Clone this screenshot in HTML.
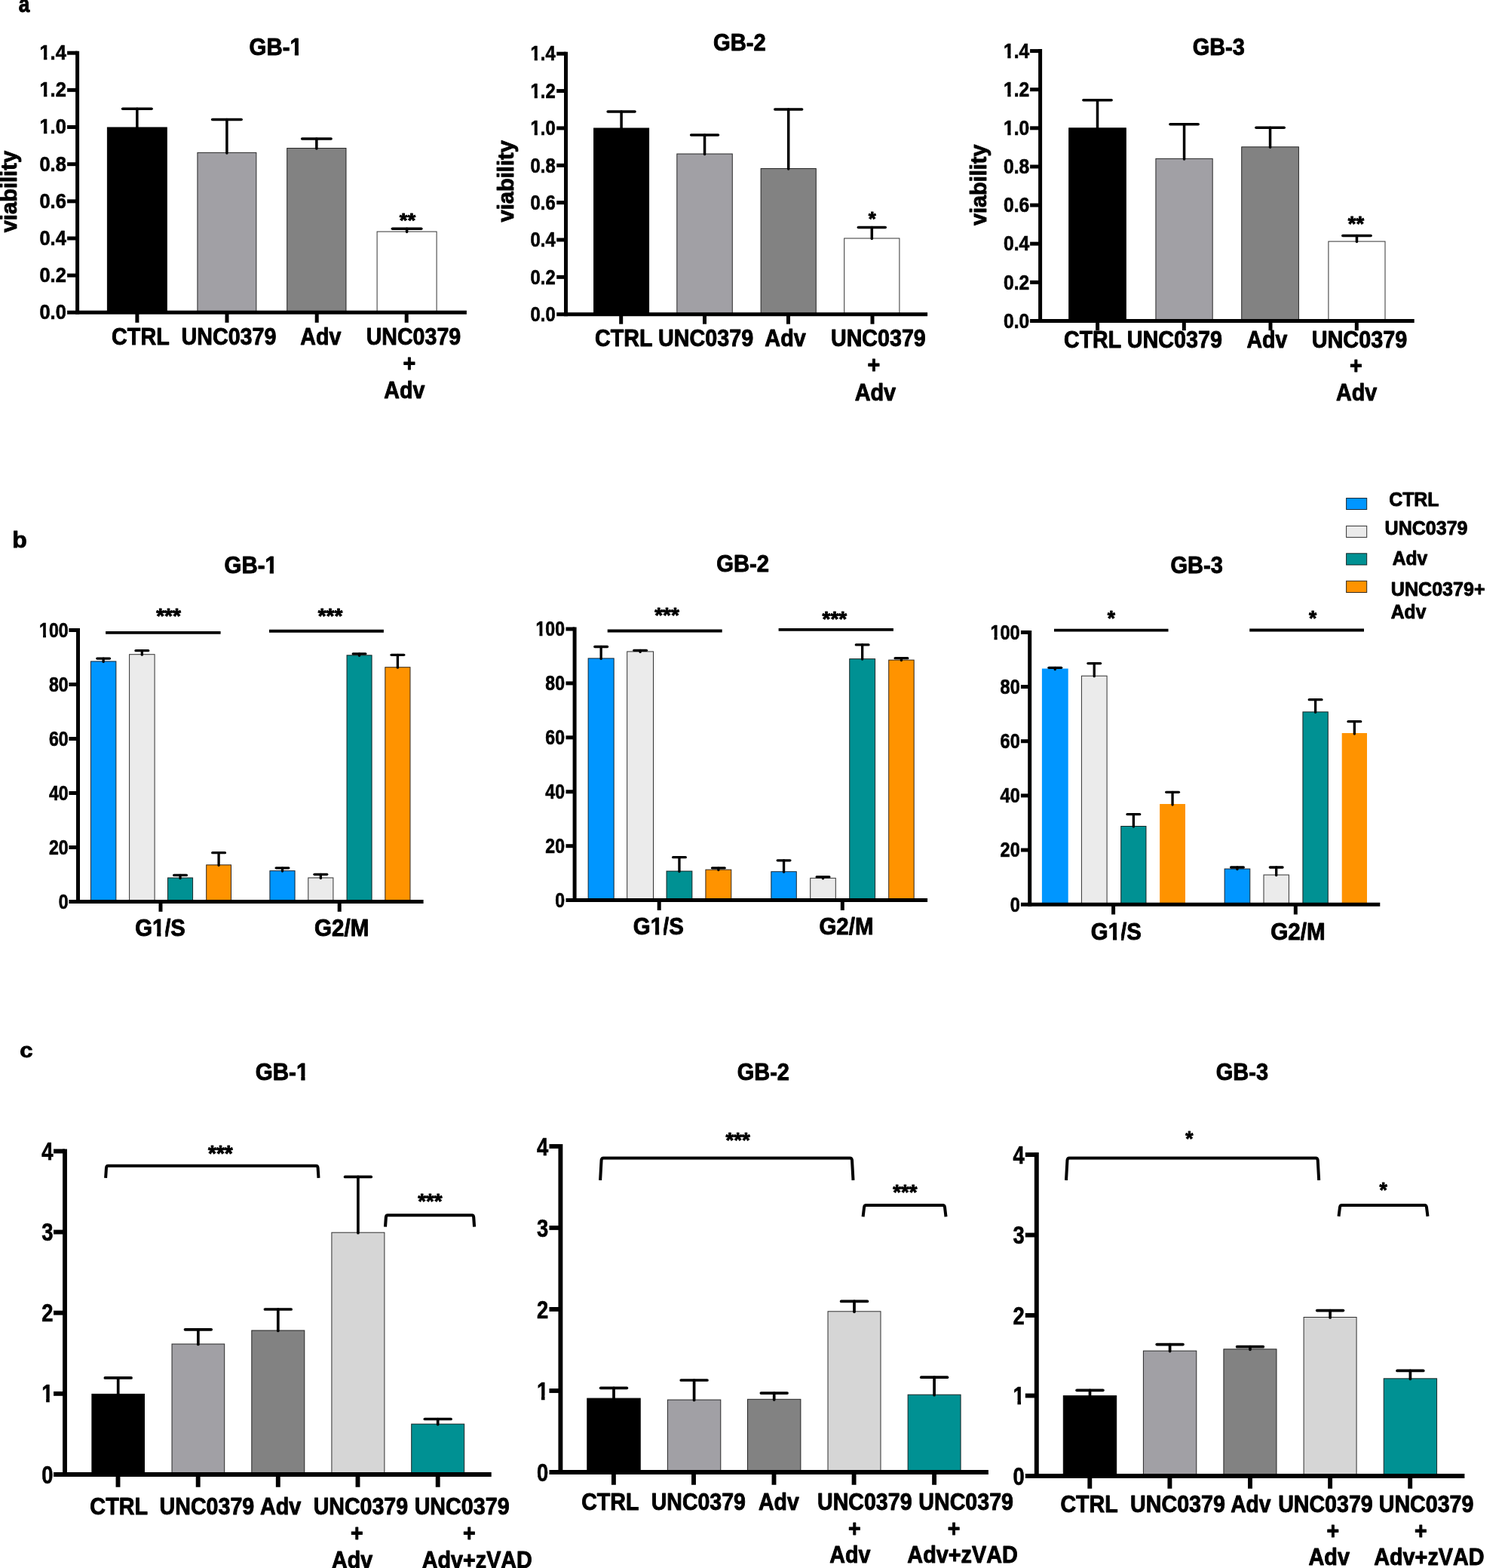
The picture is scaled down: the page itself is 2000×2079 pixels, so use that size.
<!DOCTYPE html>
<html lang="en">
<head>
<meta charset="utf-8">
<title>Figure: viability, cell cycle and apoptosis in GB-1, GB-2, GB-3</title>
<style>
html,body{margin:0;padding:0;background:#fff;}
body{width:2000px;height:2079px;overflow:hidden;}
svg{display:block;}
svg text{font-family:"Liberation Sans", sans-serif;font-weight:700;fill:#000;stroke:#000;stroke-width:0.9px;stroke-linejoin:round;font-kerning:none;white-space:pre;}
</style>
</head>
<body>
<svg width="2000" height="2079" viewBox="0 0 2000 2079">
<rect x="0" y="0" width="2000" height="2079" fill="#ffffff"/>
<defs>
<clipPath id="k0"><path clip-rule="evenodd" d="M-40 -35.43 H77.89 V40 H-40 Z M-0.28 -4.43 H5.89 V1.65 H-0.28 Z M10.58 -4.43 H16.4 V1.65 H10.58 Z"/></clipPath>
<clipPath id="k1"><path clip-rule="evenodd" d="M-40 -35.43 H77.89 V40 H-40 Z M-0.28 -4.43 H5.89 V1.65 H-0.28 Z M10.58 -4.43 H16.4 V1.65 H10.58 Z"/></clipPath>
<clipPath id="k2"><path clip-rule="evenodd" d="M-40 -35.43 H77.89 V40 H-40 Z M-0.28 -4.43 H5.89 V1.65 H-0.28 Z M10.58 -4.43 H16.4 V1.65 H10.58 Z"/></clipPath>
<clipPath id="k3"><path clip-rule="evenodd" d="M-40 -41.19 H115.7 V40 H-40 Z M58.08 -5.13 H64.88 V1.9 H58.08 Z M70.42 -5.13 H76.82 V1.9 H70.42 Z"/></clipPath>
<clipPath id="k4"><path clip-rule="evenodd" d="M-40 -34.86 H77.28 V40 H-40 Z M-0.31 -4.39 H5.78 V1.65 H-0.31 Z M10.41 -4.39 H16.17 V1.65 H10.41 Z"/></clipPath>
<clipPath id="k5"><path clip-rule="evenodd" d="M-40 -34.86 H77.28 V40 H-40 Z M-0.31 -4.39 H5.78 V1.65 H-0.31 Z M10.41 -4.39 H16.17 V1.65 H10.41 Z"/></clipPath>
<clipPath id="k6"><path clip-rule="evenodd" d="M-40 -34.86 H77.28 V40 H-40 Z M-0.31 -4.39 H5.78 V1.65 H-0.31 Z M10.41 -4.39 H16.17 V1.65 H10.41 Z"/></clipPath>
<clipPath id="k7"><path clip-rule="evenodd" d="M-40 -34.86 H77.28 V40 H-40 Z M-0.31 -4.39 H5.78 V1.65 H-0.31 Z M10.41 -4.39 H16.17 V1.65 H10.41 Z"/></clipPath>
<clipPath id="k8"><path clip-rule="evenodd" d="M-40 -34.86 H77.28 V40 H-40 Z M-0.31 -4.39 H5.78 V1.65 H-0.31 Z M10.41 -4.39 H16.17 V1.65 H10.41 Z"/></clipPath>
<clipPath id="k9"><path clip-rule="evenodd" d="M-40 -34.86 H77.28 V40 H-40 Z M-0.31 -4.39 H5.78 V1.65 H-0.31 Z M10.41 -4.39 H16.17 V1.65 H10.41 Z"/></clipPath>
<clipPath id="k10"><path clip-rule="evenodd" d="M-40 -35.62 H85.71 V40 H-40 Z M-0.27 -4.45 H5.92 V1.65 H-0.27 Z M10.63 -4.45 H16.48 V1.65 H10.63 Z"/></clipPath>
<clipPath id="k11"><path clip-rule="evenodd" d="M-40 -40.06 H113.62 V40 H-40 Z M56.42 -5.04 H63.08 V1.9 H56.42 Z M68.5 -5.04 H74.76 V1.9 H68.5 Z"/></clipPath>
<clipPath id="k12"><path clip-rule="evenodd" d="M-40 -39.87 H109.89 V40 H-40 Z M23.79 -5.03 H30.41 V1.9 H23.79 Z M35.82 -5.03 H42.06 V1.9 H35.82 Z"/></clipPath>
<clipPath id="k13"><path clip-rule="evenodd" d="M-40 -35.62 H85.71 V40 H-40 Z M-0.27 -4.45 H5.92 V1.65 H-0.27 Z M10.63 -4.45 H16.48 V1.65 H10.63 Z"/></clipPath>
<clipPath id="k14"><path clip-rule="evenodd" d="M-40 -39.87 H109.89 V40 H-40 Z M23.79 -5.03 H30.41 V1.9 H23.79 Z M35.82 -5.03 H42.06 V1.9 H35.82 Z"/></clipPath>
<clipPath id="k15"><path clip-rule="evenodd" d="M-40 -35.62 H85.71 V40 H-40 Z M-0.27 -4.45 H5.92 V1.65 H-0.27 Z M10.63 -4.45 H16.48 V1.65 H10.63 Z"/></clipPath>
<clipPath id="k16"><path clip-rule="evenodd" d="M-40 -39.87 H109.89 V40 H-40 Z M23.79 -5.03 H30.41 V1.9 H23.79 Z M35.82 -5.03 H42.06 V1.9 H35.82 Z"/></clipPath>
<clipPath id="k17"><path clip-rule="evenodd" d="M-40 -43.93 H58.79 V40 H-40 Z M0.13 -5.1 H7.41 V1.65 H0.13 Z M13 -5.1 H19.85 V1.65 H13 Z"/></clipPath>
<clipPath id="k18"><path clip-rule="evenodd" d="M-40 -41 H115.36 V40 H-40 Z M57.8 -5.12 H64.58 V1.9 H57.8 Z M70.1 -5.12 H76.48 V1.9 H70.1 Z"/></clipPath>
<clipPath id="k19"><path clip-rule="evenodd" d="M-40 -43.93 H58.79 V40 H-40 Z M0.13 -5.1 H7.41 V1.65 H0.13 Z M13 -5.1 H19.85 V1.65 H13 Z"/></clipPath>
<clipPath id="k20"><path clip-rule="evenodd" d="M-40 -43.93 H58.79 V40 H-40 Z M0.13 -5.1 H7.41 V1.65 H0.13 Z M13 -5.1 H19.85 V1.65 H13 Z"/></clipPath>
</defs>
<g>
<rect x="142.4" y="169" width="78.9" height="245.3" fill="#000000" stroke="#000" stroke-width="1" stroke-opacity="1"/>
<line x1="181.85" y1="169.5" x2="181.85" y2="144.2" stroke="#000" stroke-width="3.5" stroke-linecap="round"/>
<line x1="162.6" y1="144.2" x2="201.1" y2="144.2" stroke="#000" stroke-width="3.5" stroke-linecap="round"/>
<rect x="261.9" y="202.4" width="78" height="211.9" fill="#A1A0A5" stroke="#000" stroke-width="1" stroke-opacity="0.8"/>
<line x1="300.9" y1="202.9" x2="300.9" y2="158.5" stroke="#000" stroke-width="3.5" stroke-linecap="round"/>
<line x1="281.65" y1="158.5" x2="320.15" y2="158.5" stroke="#000" stroke-width="3.5" stroke-linecap="round"/>
<rect x="380.7" y="196.5" width="78.3" height="217.8" fill="#828282" stroke="#000" stroke-width="1" stroke-opacity="0.8"/>
<line x1="419.85" y1="197" x2="419.85" y2="184.1" stroke="#000" stroke-width="3.5" stroke-linecap="round"/>
<line x1="400.6" y1="184.1" x2="439.1" y2="184.1" stroke="#000" stroke-width="3.5" stroke-linecap="round"/>
<rect x="500.1" y="307.1" width="79" height="107.2" fill="#FFFFFF" stroke="#000" stroke-width="1" stroke-opacity="0.8"/>
<line x1="539.6" y1="307.6" x2="539.6" y2="303.3" stroke="#000" stroke-width="3.5" stroke-linecap="round"/>
<line x1="520.35" y1="303.3" x2="558.85" y2="303.3" stroke="#000" stroke-width="3.5" stroke-linecap="round"/>
<line x1="102.6" y1="67.7" x2="102.6" y2="416.8" stroke="#000" stroke-width="5" stroke-linecap="butt"/>
<line x1="89.1" y1="414.3" x2="618.9" y2="414.3" stroke="#000" stroke-width="5" stroke-linecap="butt"/>
<line x1="89.1" y1="70.2" x2="102.6" y2="70.2" stroke="#000" stroke-width="5" stroke-linecap="butt"/>
<text transform="translate(52.45 79.17) scale(0.9357 1)" font-size="27.25" clip-path="url(#k0)" style="stroke-width:0.65px">1.4</text>
<line x1="89.1" y1="119.36" x2="102.6" y2="119.36" stroke="#000" stroke-width="5" stroke-linecap="butt"/>
<text transform="translate(52.45 128.33) scale(0.9357 1)" font-size="27.25" clip-path="url(#k1)" style="stroke-width:0.65px">1.2</text>
<line x1="89.1" y1="168.51" x2="102.6" y2="168.51" stroke="#000" stroke-width="5" stroke-linecap="butt"/>
<text transform="translate(52.45 177.49) scale(0.9357 1)" font-size="27.25" clip-path="url(#k2)" style="stroke-width:0.65px">1.0</text>
<line x1="89.1" y1="217.67" x2="102.6" y2="217.67" stroke="#000" stroke-width="5" stroke-linecap="butt"/>
<text transform="translate(52.45 226.65) scale(0.9357 1)" font-size="27.25" style="stroke-width:0.65px">0.8</text>
<line x1="89.1" y1="266.83" x2="102.6" y2="266.83" stroke="#000" stroke-width="5" stroke-linecap="butt"/>
<text transform="translate(52.45 275.8) scale(0.9357 1)" font-size="27.25" style="stroke-width:0.65px">0.6</text>
<line x1="89.1" y1="315.99" x2="102.6" y2="315.99" stroke="#000" stroke-width="5" stroke-linecap="butt"/>
<text transform="translate(52.45 324.96) scale(0.9357 1)" font-size="27.25" style="stroke-width:0.65px">0.4</text>
<line x1="89.1" y1="365.14" x2="102.6" y2="365.14" stroke="#000" stroke-width="5" stroke-linecap="butt"/>
<text transform="translate(52.45 374.12) scale(0.9357 1)" font-size="27.25" style="stroke-width:0.65px">0.2</text>
<text transform="translate(52.45 423.28) scale(0.9357 1)" font-size="27.25" style="stroke-width:0.65px">0.0</text>
<line x1="181.9" y1="414.3" x2="181.9" y2="427.8" stroke="#000" stroke-width="5" stroke-linecap="butt"/>
<line x1="301" y1="414.3" x2="301" y2="427.8" stroke="#000" stroke-width="5" stroke-linecap="butt"/>
<line x1="420.2" y1="414.3" x2="420.2" y2="427.8" stroke="#000" stroke-width="5" stroke-linecap="butt"/>
<line x1="539.2" y1="414.3" x2="539.2" y2="427.8" stroke="#000" stroke-width="5" stroke-linecap="butt"/>
<text transform="translate(330.54 73.45) scale(0.9296 1)" font-size="31.69" clip-path="url(#k3)">GB-1</text>
<text transform="translate(148.07 456.85) scale(0.9245 1)" font-size="31.11">CTRL</text>
<text transform="translate(240.53 456.85) scale(0.9224 1)" font-size="31.11">UNC0379</text>
<text transform="translate(398.34 456.85) scale(0.9196 1)" font-size="31.11">Adv</text>
<text transform="translate(485.63 456.85) scale(0.9194 1)" font-size="31.11">UNC0379</text>
<text transform="translate(534.6 492.25) scale(0.9227 1)" font-size="31.11">+</text>
<text transform="translate(509.34 527.55) scale(0.9196 1)" font-size="31.11">Adv</text>
<text transform="translate(529.87 301.49) scale(1.0600 1)" font-size="26.07">**</text>
<text transform="translate(21.75 308.36) rotate(-90) scale(1.0000 1)" font-size="29.13">viability</text>
<text transform="translate(24.68 16.05) scale(0.8602 1)" font-size="30.52">a</text>
</g>
<g>
<rect x="787.6" y="170" width="73" height="246.7" fill="#000000" stroke="#000" stroke-width="1" stroke-opacity="1"/>
<line x1="824.1" y1="170.5" x2="824.1" y2="148" stroke="#000" stroke-width="3.5" stroke-linecap="round"/>
<line x1="806.15" y1="148" x2="842.05" y2="148" stroke="#000" stroke-width="3.5" stroke-linecap="round"/>
<rect x="897.8" y="204" width="73.5" height="212.7" fill="#A1A0A5" stroke="#000" stroke-width="1" stroke-opacity="0.8"/>
<line x1="934.55" y1="204.5" x2="934.55" y2="179" stroke="#000" stroke-width="3.5" stroke-linecap="round"/>
<line x1="916.6" y1="179" x2="952.5" y2="179" stroke="#000" stroke-width="3.5" stroke-linecap="round"/>
<rect x="1009.1" y="223.5" width="73.2" height="193.2" fill="#828282" stroke="#000" stroke-width="1" stroke-opacity="0.8"/>
<line x1="1045.7" y1="224" x2="1045.7" y2="145" stroke="#000" stroke-width="3.5" stroke-linecap="round"/>
<line x1="1027.75" y1="145" x2="1063.65" y2="145" stroke="#000" stroke-width="3.5" stroke-linecap="round"/>
<rect x="1119.7" y="316" width="73.2" height="100.7" fill="#FFFFFF" stroke="#000" stroke-width="1" stroke-opacity="0.8"/>
<line x1="1156.3" y1="316.5" x2="1156.3" y2="301.5" stroke="#000" stroke-width="3.5" stroke-linecap="round"/>
<line x1="1138.35" y1="301.5" x2="1174.25" y2="301.5" stroke="#000" stroke-width="3.5" stroke-linecap="round"/>
<line x1="750.5" y1="68.7" x2="750.5" y2="419.2" stroke="#000" stroke-width="5" stroke-linecap="butt"/>
<line x1="738.2" y1="416.7" x2="1230.1" y2="416.7" stroke="#000" stroke-width="5" stroke-linecap="butt"/>
<line x1="738.2" y1="71.2" x2="750.5" y2="71.2" stroke="#000" stroke-width="5" stroke-linecap="butt"/>
<text transform="translate(703.61 80.42) scale(0.8875 1)" font-size="26.82" clip-path="url(#k4)" style="stroke-width:0.65px">1.4</text>
<line x1="738.2" y1="120.56" x2="750.5" y2="120.56" stroke="#000" stroke-width="5" stroke-linecap="butt"/>
<text transform="translate(703.61 129.78) scale(0.8875 1)" font-size="26.82" clip-path="url(#k5)" style="stroke-width:0.65px">1.2</text>
<line x1="738.2" y1="169.91" x2="750.5" y2="169.91" stroke="#000" stroke-width="5" stroke-linecap="butt"/>
<text transform="translate(703.61 179.14) scale(0.8875 1)" font-size="26.82" clip-path="url(#k6)" style="stroke-width:0.65px">1.0</text>
<line x1="738.2" y1="219.27" x2="750.5" y2="219.27" stroke="#000" stroke-width="5" stroke-linecap="butt"/>
<text transform="translate(703.61 228.5) scale(0.8875 1)" font-size="26.82" style="stroke-width:0.65px">0.8</text>
<line x1="738.2" y1="268.63" x2="750.5" y2="268.63" stroke="#000" stroke-width="5" stroke-linecap="butt"/>
<text transform="translate(703.61 277.85) scale(0.8875 1)" font-size="26.82" style="stroke-width:0.65px">0.6</text>
<line x1="738.2" y1="317.99" x2="750.5" y2="317.99" stroke="#000" stroke-width="5" stroke-linecap="butt"/>
<text transform="translate(703.61 327.21) scale(0.8875 1)" font-size="26.82" style="stroke-width:0.65px">0.4</text>
<line x1="738.2" y1="367.34" x2="750.5" y2="367.34" stroke="#000" stroke-width="5" stroke-linecap="butt"/>
<text transform="translate(703.61 376.57) scale(0.8875 1)" font-size="26.82" style="stroke-width:0.65px">0.2</text>
<text transform="translate(703.61 425.93) scale(0.8875 1)" font-size="26.82" style="stroke-width:0.65px">0.0</text>
<line x1="823.7" y1="416.7" x2="823.7" y2="429.7" stroke="#000" stroke-width="5" stroke-linecap="butt"/>
<line x1="934.5" y1="416.7" x2="934.5" y2="429.7" stroke="#000" stroke-width="5" stroke-linecap="butt"/>
<line x1="1045.5" y1="416.7" x2="1045.5" y2="429.7" stroke="#000" stroke-width="5" stroke-linecap="butt"/>
<line x1="1157" y1="416.7" x2="1157" y2="429.7" stroke="#000" stroke-width="5" stroke-linecap="butt"/>
<text transform="translate(946.05 66.85) scale(0.9344 1)" font-size="31.25">GB-2</text>
<text transform="translate(788.97 459.35) scale(0.9232 1)" font-size="31.11">CTRL</text>
<text transform="translate(872.92 459.35) scale(0.9247 1)" font-size="31.11">UNC0379</text>
<text transform="translate(1014.33 459.35) scale(0.9265 1)" font-size="31.11">Adv</text>
<text transform="translate(1101.93 459.35) scale(0.9217 1)" font-size="31.11">UNC0379</text>
<text transform="translate(1150.5 493.75) scale(0.9227 1)" font-size="31.11">+</text>
<text transform="translate(1133.63 530.65) scale(0.9282 1)" font-size="31.11">Adv</text>
<text transform="translate(1151.77 299.47) scale(0.9756 1)" font-size="26.34">*</text>
<text transform="translate(681.35 294.46) rotate(-90) scale(1.0000 1)" font-size="29.08">viability</text>
</g>
<g>
<rect x="1417.7" y="169.8" width="75.6" height="255.6" fill="#000000" stroke="#000" stroke-width="1" stroke-opacity="1"/>
<line x1="1455.5" y1="170.3" x2="1455.5" y2="132.7" stroke="#000" stroke-width="3.5" stroke-linecap="round"/>
<line x1="1436.85" y1="132.7" x2="1474.15" y2="132.7" stroke="#000" stroke-width="3.5" stroke-linecap="round"/>
<rect x="1532.9" y="210.4" width="75.3" height="215" fill="#A1A0A5" stroke="#000" stroke-width="1" stroke-opacity="0.8"/>
<line x1="1570.55" y1="210.9" x2="1570.55" y2="164.7" stroke="#000" stroke-width="3.5" stroke-linecap="round"/>
<line x1="1551.9" y1="164.7" x2="1589.2" y2="164.7" stroke="#000" stroke-width="3.5" stroke-linecap="round"/>
<rect x="1646.7" y="194.8" width="75.7" height="230.6" fill="#828282" stroke="#000" stroke-width="1" stroke-opacity="0.8"/>
<line x1="1684.55" y1="195.3" x2="1684.55" y2="169.3" stroke="#000" stroke-width="3.5" stroke-linecap="round"/>
<line x1="1665.9" y1="169.3" x2="1703.2" y2="169.3" stroke="#000" stroke-width="3.5" stroke-linecap="round"/>
<rect x="1761.9" y="320.1" width="75.1" height="105.3" fill="#FFFFFF" stroke="#000" stroke-width="1" stroke-opacity="0.8"/>
<line x1="1799.45" y1="320.6" x2="1799.45" y2="312.5" stroke="#000" stroke-width="3.5" stroke-linecap="round"/>
<line x1="1780.8" y1="312.5" x2="1818.1" y2="312.5" stroke="#000" stroke-width="3.5" stroke-linecap="round"/>
<line x1="1379.6" y1="65.1" x2="1379.6" y2="427.9" stroke="#000" stroke-width="5" stroke-linecap="butt"/>
<line x1="1366.1" y1="425.4" x2="1875.7" y2="425.4" stroke="#000" stroke-width="5" stroke-linecap="butt"/>
<line x1="1366.1" y1="67.6" x2="1379.6" y2="67.6" stroke="#000" stroke-width="5" stroke-linecap="butt"/>
<text transform="translate(1331 76.82) scale(0.9173 1)" font-size="26.82" clip-path="url(#k7)" style="stroke-width:0.65px">1.4</text>
<line x1="1366.1" y1="118.71" x2="1379.6" y2="118.71" stroke="#000" stroke-width="5" stroke-linecap="butt"/>
<text transform="translate(1331 127.94) scale(0.9173 1)" font-size="26.82" clip-path="url(#k8)" style="stroke-width:0.65px">1.2</text>
<line x1="1366.1" y1="169.83" x2="1379.6" y2="169.83" stroke="#000" stroke-width="5" stroke-linecap="butt"/>
<text transform="translate(1331 179.05) scale(0.9173 1)" font-size="26.82" clip-path="url(#k9)" style="stroke-width:0.65px">1.0</text>
<line x1="1366.1" y1="220.94" x2="1379.6" y2="220.94" stroke="#000" stroke-width="5" stroke-linecap="butt"/>
<text transform="translate(1331 230.17) scale(0.9173 1)" font-size="26.82" style="stroke-width:0.65px">0.8</text>
<line x1="1366.1" y1="272.06" x2="1379.6" y2="272.06" stroke="#000" stroke-width="5" stroke-linecap="butt"/>
<text transform="translate(1331 281.28) scale(0.9173 1)" font-size="26.82" style="stroke-width:0.65px">0.6</text>
<line x1="1366.1" y1="323.17" x2="1379.6" y2="323.17" stroke="#000" stroke-width="5" stroke-linecap="butt"/>
<text transform="translate(1331 332.4) scale(0.9173 1)" font-size="26.82" style="stroke-width:0.65px">0.4</text>
<line x1="1366.1" y1="374.29" x2="1379.6" y2="374.29" stroke="#000" stroke-width="5" stroke-linecap="butt"/>
<text transform="translate(1331 383.51) scale(0.9173 1)" font-size="26.82" style="stroke-width:0.65px">0.2</text>
<text transform="translate(1331 434.62) scale(0.9173 1)" font-size="26.82" style="stroke-width:0.65px">0.0</text>
<line x1="1455.6" y1="425.4" x2="1455.6" y2="438.2" stroke="#000" stroke-width="5" stroke-linecap="butt"/>
<line x1="1570.3" y1="425.4" x2="1570.3" y2="438.2" stroke="#000" stroke-width="5" stroke-linecap="butt"/>
<line x1="1685" y1="425.4" x2="1685" y2="438.2" stroke="#000" stroke-width="5" stroke-linecap="butt"/>
<line x1="1799.3" y1="425.4" x2="1799.3" y2="438.2" stroke="#000" stroke-width="5" stroke-linecap="butt"/>
<text transform="translate(1581.66 73.45) scale(0.9090 1)" font-size="31.83">GB-3</text>
<text transform="translate(1411.08 460.75) scale(0.9170 1)" font-size="31.11">CTRL</text>
<text transform="translate(1494.72 460.75) scale(0.9247 1)" font-size="31.11">UNC0379</text>
<text transform="translate(1653.54 460.75) scale(0.9144 1)" font-size="31.11">Adv</text>
<text transform="translate(1739.72 460.75) scale(0.9269 1)" font-size="31.11">UNC0379</text>
<text transform="translate(1789.9 494.75) scale(0.9227 1)" font-size="31.11">+</text>
<text transform="translate(1772.04 530.65) scale(0.9231 1)" font-size="31.11">Adv</text>
<text transform="translate(1787.87 306.23) scale(1.0085 1)" font-size="27.15">**</text>
<text transform="translate(1308.15 299.06) rotate(-90) scale(1.0000 1)" font-size="28.89">viability</text>
</g>
<g>
<rect x="120.4" y="876.9" width="33.5" height="318.6" fill="#0096FF" stroke="#000" stroke-width="1" stroke-opacity="0.8"/>
<line x1="137.15" y1="877.4" x2="137.15" y2="873.1" stroke="#000" stroke-width="3.3" stroke-linecap="round"/>
<line x1="128.8" y1="873.1" x2="145.5" y2="873.1" stroke="#000" stroke-width="3.3" stroke-linecap="round"/>
<rect x="171.6" y="867.7" width="33.5" height="327.8" fill="#EBEBEB" stroke="#000" stroke-width="1" stroke-opacity="0.8"/>
<line x1="188.35" y1="868.2" x2="188.35" y2="862.7" stroke="#000" stroke-width="3.3" stroke-linecap="round"/>
<line x1="180" y1="862.7" x2="196.7" y2="862.7" stroke="#000" stroke-width="3.3" stroke-linecap="round"/>
<rect x="222.5" y="1163.9" width="33.1" height="31.6" fill="#009193" stroke="#000" stroke-width="1" stroke-opacity="0.8"/>
<line x1="239.05" y1="1164.4" x2="239.05" y2="1160.4" stroke="#000" stroke-width="3.3" stroke-linecap="round"/>
<line x1="230.7" y1="1160.4" x2="247.4" y2="1160.4" stroke="#000" stroke-width="3.3" stroke-linecap="round"/>
<rect x="273.7" y="1146.8" width="32.8" height="48.7" fill="#FF9300" stroke="#000" stroke-width="1" stroke-opacity="0.8"/>
<line x1="290.1" y1="1147.3" x2="290.1" y2="1130.7" stroke="#000" stroke-width="3.3" stroke-linecap="round"/>
<line x1="281.75" y1="1130.7" x2="298.45" y2="1130.7" stroke="#000" stroke-width="3.3" stroke-linecap="round"/>
<rect x="357.9" y="1154.6" width="33.2" height="40.9" fill="#0096FF" stroke="#000" stroke-width="1" stroke-opacity="0.8"/>
<line x1="374.5" y1="1155.1" x2="374.5" y2="1150.8" stroke="#000" stroke-width="3.3" stroke-linecap="round"/>
<line x1="366.15" y1="1150.8" x2="382.85" y2="1150.8" stroke="#000" stroke-width="3.3" stroke-linecap="round"/>
<rect x="408.8" y="1163.9" width="33.1" height="31.6" fill="#EBEBEB" stroke="#000" stroke-width="1" stroke-opacity="0.8"/>
<line x1="425.35" y1="1164.4" x2="425.35" y2="1159.3" stroke="#000" stroke-width="3.3" stroke-linecap="round"/>
<line x1="417" y1="1159.3" x2="433.7" y2="1159.3" stroke="#000" stroke-width="3.3" stroke-linecap="round"/>
<rect x="460" y="868.8" width="33.1" height="326.7" fill="#009193" stroke="#000" stroke-width="1" stroke-opacity="0.8"/>
<line x1="476.55" y1="869.3" x2="476.55" y2="866.8" stroke="#000" stroke-width="3.3" stroke-linecap="round"/>
<line x1="468.2" y1="866.8" x2="484.9" y2="866.8" stroke="#000" stroke-width="3.3" stroke-linecap="round"/>
<rect x="510.8" y="884.7" width="33.2" height="310.8" fill="#FF9300" stroke="#000" stroke-width="1" stroke-opacity="0.8"/>
<line x1="527.4" y1="885.2" x2="527.4" y2="868.3" stroke="#000" stroke-width="3.3" stroke-linecap="round"/>
<line x1="519.05" y1="868.3" x2="535.75" y2="868.3" stroke="#000" stroke-width="3.3" stroke-linecap="round"/>
<line x1="103.5" y1="833" x2="103.5" y2="1198" stroke="#000" stroke-width="5" stroke-linecap="butt"/>
<line x1="91.4" y1="1195.5" x2="561.6" y2="1195.5" stroke="#000" stroke-width="5" stroke-linecap="butt"/>
<line x1="91.4" y1="835.5" x2="103.5" y2="835.5" stroke="#000" stroke-width="5" stroke-linecap="butt"/>
<text transform="translate(52.06 844.92) scale(0.8431 1)" font-size="27.4" clip-path="url(#k10)" style="stroke-width:0.65px">100</text>
<line x1="91.4" y1="907.5" x2="103.5" y2="907.5" stroke="#000" stroke-width="5" stroke-linecap="butt"/>
<text transform="translate(64.91 916.92) scale(0.8431 1)" font-size="27.4" style="stroke-width:0.65px">80</text>
<line x1="91.4" y1="979.5" x2="103.5" y2="979.5" stroke="#000" stroke-width="5" stroke-linecap="butt"/>
<text transform="translate(64.91 988.92) scale(0.8431 1)" font-size="27.4" style="stroke-width:0.65px">60</text>
<line x1="91.4" y1="1051.5" x2="103.5" y2="1051.5" stroke="#000" stroke-width="5" stroke-linecap="butt"/>
<text transform="translate(64.91 1060.92) scale(0.8431 1)" font-size="27.4" style="stroke-width:0.65px">40</text>
<line x1="91.4" y1="1123.5" x2="103.5" y2="1123.5" stroke="#000" stroke-width="5" stroke-linecap="butt"/>
<text transform="translate(64.91 1132.92) scale(0.8431 1)" font-size="27.4" style="stroke-width:0.65px">20</text>
<text transform="translate(77.75 1204.92) scale(0.8431 1)" font-size="27.4" style="stroke-width:0.65px">0</text>
<line x1="213" y1="1195.5" x2="213" y2="1208.8" stroke="#000" stroke-width="5" stroke-linecap="butt"/>
<line x1="450.2" y1="1195.5" x2="450.2" y2="1208.8" stroke="#000" stroke-width="5" stroke-linecap="butt"/>
<line x1="140.1" y1="838.9" x2="292.6" y2="838.9" stroke="#000" stroke-width="3.9" stroke-linecap="butt"/>
<line x1="357" y1="836.7" x2="508.9" y2="836.7" stroke="#000" stroke-width="3.9" stroke-linecap="butt"/>
<text transform="translate(297.54 759.55) scale(0.9544 1)" font-size="30.81" clip-path="url(#k11)">GB-1</text>
<text transform="translate(179.15 1241.45) scale(0.9550 1)" font-size="30.67" clip-path="url(#k12)">G1/S</text>
<text transform="translate(417.04 1241.45) scale(0.9641 1)" font-size="30.67">G2/M</text>
<text transform="translate(207.17 825.61) scale(1.0251 1)" font-size="27.41">***</text>
<text transform="translate(421.67 825.66) scale(1.0189 1)" font-size="27.41">***</text>
<text transform="translate(16.34 725.55) scale(1.0522 1)" font-size="30.37">b</text>
</g>
<g>
<rect x="780.1" y="872.9" width="34.1" height="320.7" fill="#0096FF" stroke="#000" stroke-width="1" stroke-opacity="0.8"/>
<line x1="797.15" y1="873.4" x2="797.15" y2="857.5" stroke="#000" stroke-width="3.3" stroke-linecap="round"/>
<line x1="788.8" y1="857.5" x2="805.5" y2="857.5" stroke="#000" stroke-width="3.3" stroke-linecap="round"/>
<rect x="831.7" y="863.9" width="34.8" height="329.7" fill="#EBEBEB" stroke="#000" stroke-width="1" stroke-opacity="0.8"/>
<line x1="849.1" y1="864.4" x2="849.1" y2="862.3" stroke="#000" stroke-width="3.3" stroke-linecap="round"/>
<line x1="840.75" y1="862.3" x2="857.45" y2="862.3" stroke="#000" stroke-width="3.3" stroke-linecap="round"/>
<rect x="884" y="1155" width="33.9" height="38.6" fill="#009193" stroke="#000" stroke-width="1" stroke-opacity="0.8"/>
<line x1="900.95" y1="1155.5" x2="900.95" y2="1136.7" stroke="#000" stroke-width="3.3" stroke-linecap="round"/>
<line x1="892.6" y1="1136.7" x2="909.3" y2="1136.7" stroke="#000" stroke-width="3.3" stroke-linecap="round"/>
<rect x="935.9" y="1153.1" width="33.9" height="40.5" fill="#FF9300" stroke="#000" stroke-width="1" stroke-opacity="0.8"/>
<line x1="952.85" y1="1153.6" x2="952.85" y2="1150.8" stroke="#000" stroke-width="3.3" stroke-linecap="round"/>
<line x1="944.5" y1="1150.8" x2="961.2" y2="1150.8" stroke="#000" stroke-width="3.3" stroke-linecap="round"/>
<rect x="1022.8" y="1155.7" width="33.5" height="37.9" fill="#0096FF" stroke="#000" stroke-width="1" stroke-opacity="0.8"/>
<line x1="1039.55" y1="1156.2" x2="1039.55" y2="1140.8" stroke="#000" stroke-width="3.3" stroke-linecap="round"/>
<line x1="1031.2" y1="1140.8" x2="1047.9" y2="1140.8" stroke="#000" stroke-width="3.3" stroke-linecap="round"/>
<rect x="1074.7" y="1164.3" width="33.6" height="29.3" fill="#EBEBEB" stroke="#000" stroke-width="1" stroke-opacity="0.8"/>
<line x1="1091.5" y1="1164.8" x2="1091.5" y2="1162.7" stroke="#000" stroke-width="3.3" stroke-linecap="round"/>
<line x1="1083.15" y1="1162.7" x2="1099.85" y2="1162.7" stroke="#000" stroke-width="3.3" stroke-linecap="round"/>
<rect x="1126.7" y="873.6" width="33.9" height="320" fill="#009193" stroke="#000" stroke-width="1" stroke-opacity="0.8"/>
<line x1="1143.65" y1="874.1" x2="1143.65" y2="854.9" stroke="#000" stroke-width="3.3" stroke-linecap="round"/>
<line x1="1135.3" y1="854.9" x2="1152" y2="854.9" stroke="#000" stroke-width="3.3" stroke-linecap="round"/>
<rect x="1178.7" y="875.1" width="33.5" height="318.5" fill="#FF9300" stroke="#000" stroke-width="1" stroke-opacity="0.8"/>
<line x1="1195.45" y1="875.6" x2="1195.45" y2="872.7" stroke="#000" stroke-width="3.3" stroke-linecap="round"/>
<line x1="1187.1" y1="872.7" x2="1203.8" y2="872.7" stroke="#000" stroke-width="3.3" stroke-linecap="round"/>
<line x1="762.1" y1="831.5" x2="762.1" y2="1196.1" stroke="#000" stroke-width="5" stroke-linecap="butt"/>
<line x1="750.5" y1="1193.6" x2="1230.1" y2="1193.6" stroke="#000" stroke-width="5" stroke-linecap="butt"/>
<line x1="750.5" y1="834" x2="762.1" y2="834" stroke="#000" stroke-width="5" stroke-linecap="butt"/>
<text transform="translate(710.46 843.42) scale(0.8431 1)" font-size="27.4" clip-path="url(#k13)" style="stroke-width:0.65px">100</text>
<line x1="750.5" y1="905.92" x2="762.1" y2="905.92" stroke="#000" stroke-width="5" stroke-linecap="butt"/>
<text transform="translate(723.31 915.34) scale(0.8431 1)" font-size="27.4" style="stroke-width:0.65px">80</text>
<line x1="750.5" y1="977.84" x2="762.1" y2="977.84" stroke="#000" stroke-width="5" stroke-linecap="butt"/>
<text transform="translate(723.31 987.26) scale(0.8431 1)" font-size="27.4" style="stroke-width:0.65px">60</text>
<line x1="750.5" y1="1049.76" x2="762.1" y2="1049.76" stroke="#000" stroke-width="5" stroke-linecap="butt"/>
<text transform="translate(723.31 1059.18) scale(0.8431 1)" font-size="27.4" style="stroke-width:0.65px">40</text>
<line x1="750.5" y1="1121.68" x2="762.1" y2="1121.68" stroke="#000" stroke-width="5" stroke-linecap="butt"/>
<text transform="translate(723.31 1131.1) scale(0.8431 1)" font-size="27.4" style="stroke-width:0.65px">20</text>
<text transform="translate(736.15 1203.02) scale(0.8431 1)" font-size="27.4" style="stroke-width:0.65px">0</text>
<line x1="874.2" y1="1193.6" x2="874.2" y2="1206.9" stroke="#000" stroke-width="5" stroke-linecap="butt"/>
<line x1="1117.3" y1="1193.6" x2="1117.3" y2="1206.9" stroke="#000" stroke-width="5" stroke-linecap="butt"/>
<line x1="805.7" y1="836.5" x2="957.7" y2="836.5" stroke="#000" stroke-width="3.9" stroke-linecap="butt"/>
<line x1="1032.6" y1="834.9" x2="1184.9" y2="834.9" stroke="#000" stroke-width="3.9" stroke-linecap="butt"/>
<text transform="translate(950.25 757.55) scale(0.9521 1)" font-size="30.67">GB-2</text>
<text transform="translate(839.84 1239.25) scale(0.9580 1)" font-size="30.67" clip-path="url(#k14)">G1/S</text>
<text transform="translate(1086.44 1239.25) scale(0.9613 1)" font-size="30.67">G2/M</text>
<text transform="translate(868.17 824.96) scale(1.0189 1)" font-size="27.41">***</text>
<text transform="translate(1090.57 830.06) scale(1.0189 1)" font-size="27.41">***</text>
</g>
<g>
<rect x="1381.9" y="886.5" width="34.8" height="312.7" fill="#0096FF"/>
<line x1="1399.3" y1="887.5" x2="1399.3" y2="885.3" stroke="#000" stroke-width="3.3" stroke-linecap="round"/>
<line x1="1390.95" y1="885.3" x2="1407.65" y2="885.3" stroke="#000" stroke-width="3.3" stroke-linecap="round"/>
<rect x="1434.4" y="896.2" width="33.7" height="303" fill="#EBEBEB" stroke="#000" stroke-width="1" stroke-opacity="0.8"/>
<line x1="1451.25" y1="896.7" x2="1451.25" y2="879.6" stroke="#000" stroke-width="3.3" stroke-linecap="round"/>
<line x1="1442.9" y1="879.6" x2="1459.6" y2="879.6" stroke="#000" stroke-width="3.3" stroke-linecap="round"/>
<rect x="1486.7" y="1095.5" width="33.3" height="103.7" fill="#009193" stroke="#000" stroke-width="1" stroke-opacity="0.8"/>
<line x1="1503.35" y1="1096" x2="1503.35" y2="1079.7" stroke="#000" stroke-width="3.3" stroke-linecap="round"/>
<line x1="1495" y1="1079.7" x2="1511.7" y2="1079.7" stroke="#000" stroke-width="3.3" stroke-linecap="round"/>
<rect x="1538.1" y="1066" width="33.9" height="133.2" fill="#FF9300"/>
<line x1="1555.05" y1="1067" x2="1555.05" y2="1050.3" stroke="#000" stroke-width="3.3" stroke-linecap="round"/>
<line x1="1546.7" y1="1050.3" x2="1563.4" y2="1050.3" stroke="#000" stroke-width="3.3" stroke-linecap="round"/>
<rect x="1624.1" y="1152" width="33.7" height="47.2" fill="#0096FF" stroke="#000" stroke-width="1" stroke-opacity="0.8"/>
<line x1="1640.95" y1="1152.5" x2="1640.95" y2="1150" stroke="#000" stroke-width="3.3" stroke-linecap="round"/>
<line x1="1632.6" y1="1150" x2="1649.3" y2="1150" stroke="#000" stroke-width="3.3" stroke-linecap="round"/>
<rect x="1676" y="1160" width="33.4" height="39.2" fill="#EBEBEB" stroke="#000" stroke-width="1" stroke-opacity="0.8"/>
<line x1="1692.7" y1="1160.5" x2="1692.7" y2="1150" stroke="#000" stroke-width="3.3" stroke-linecap="round"/>
<line x1="1684.35" y1="1150" x2="1701.05" y2="1150" stroke="#000" stroke-width="3.3" stroke-linecap="round"/>
<rect x="1727.9" y="943.9" width="33.4" height="255.3" fill="#009193" stroke="#000" stroke-width="1" stroke-opacity="0.8"/>
<line x1="1744.6" y1="944.4" x2="1744.6" y2="927.7" stroke="#000" stroke-width="3.3" stroke-linecap="round"/>
<line x1="1736.25" y1="927.7" x2="1752.95" y2="927.7" stroke="#000" stroke-width="3.3" stroke-linecap="round"/>
<rect x="1779.7" y="972" width="33.3" height="227.2" fill="#FF9300"/>
<line x1="1796.35" y1="973" x2="1796.35" y2="956.7" stroke="#000" stroke-width="3.3" stroke-linecap="round"/>
<line x1="1788" y1="956.7" x2="1804.7" y2="956.7" stroke="#000" stroke-width="3.3" stroke-linecap="round"/>
<line x1="1365.7" y1="835.9" x2="1365.7" y2="1201.7" stroke="#000" stroke-width="5" stroke-linecap="butt"/>
<line x1="1353.9" y1="1199.2" x2="1830.3" y2="1199.2" stroke="#000" stroke-width="5" stroke-linecap="butt"/>
<line x1="1353.9" y1="838.4" x2="1365.7" y2="838.4" stroke="#000" stroke-width="5" stroke-linecap="butt"/>
<text transform="translate(1313.49 847.82) scale(0.8577 1)" font-size="27.4" clip-path="url(#k15)" style="stroke-width:0.65px">100</text>
<line x1="1353.9" y1="910.56" x2="1365.7" y2="910.56" stroke="#000" stroke-width="5" stroke-linecap="butt"/>
<text transform="translate(1326.56 919.98) scale(0.8577 1)" font-size="27.4" style="stroke-width:0.65px">80</text>
<line x1="1353.9" y1="982.72" x2="1365.7" y2="982.72" stroke="#000" stroke-width="5" stroke-linecap="butt"/>
<text transform="translate(1326.56 992.14) scale(0.8577 1)" font-size="27.4" style="stroke-width:0.65px">60</text>
<line x1="1353.9" y1="1054.88" x2="1365.7" y2="1054.88" stroke="#000" stroke-width="5" stroke-linecap="butt"/>
<text transform="translate(1326.56 1064.31) scale(0.8577 1)" font-size="27.4" style="stroke-width:0.65px">40</text>
<line x1="1353.9" y1="1127.04" x2="1365.7" y2="1127.04" stroke="#000" stroke-width="5" stroke-linecap="butt"/>
<text transform="translate(1326.56 1136.46) scale(0.8577 1)" font-size="27.4" style="stroke-width:0.65px">20</text>
<text transform="translate(1339.63 1208.62) scale(0.8577 1)" font-size="27.4" style="stroke-width:0.65px">0</text>
<line x1="1476.6" y1="1199.2" x2="1476.6" y2="1212.5" stroke="#000" stroke-width="5" stroke-linecap="butt"/>
<line x1="1718.3" y1="1199.2" x2="1718.3" y2="1212.5" stroke="#000" stroke-width="5" stroke-linecap="butt"/>
<line x1="1398" y1="835.6" x2="1549.5" y2="835.6" stroke="#000" stroke-width="3.9" stroke-linecap="butt"/>
<line x1="1657.2" y1="835.5" x2="1809" y2="835.5" stroke="#000" stroke-width="3.9" stroke-linecap="butt"/>
<text transform="translate(1552.46 759.65) scale(0.9463 1)" font-size="30.67">GB-3</text>
<text transform="translate(1446.84 1245.75) scale(0.9580 1)" font-size="30.67" clip-path="url(#k16)">G1/S</text>
<text transform="translate(1685.34 1245.75) scale(0.9655 1)" font-size="30.67">G2/M</text>
<text transform="translate(1468.87 828.86) scale(0.9563 1)" font-size="27.41">*</text>
<text transform="translate(1736.07 828.86) scale(0.9563 1)" font-size="27.41">*</text>
<text transform="translate(1842.13 670.75) scale(0.9376 1)" font-size="26.6">CTRL</text>
<text transform="translate(1836.55 708.75) scale(0.9421 1)" font-size="26.6">UNC0379</text>
<text transform="translate(1846.74 748.65) scale(0.9258 1)" font-size="26.6">Adv</text>
<text transform="translate(1844.84 789.55) scale(0.9432 1)" font-size="26.6">UNC0379+</text>
<text transform="translate(1844.84 820.25) scale(0.9258 1)" font-size="26.6">Adv</text>
<rect x="1785.6" y="660.5" width="27.1" height="15" fill="#0096FF" stroke="#000" stroke-width="1" stroke-opacity="0.8"/>
<rect x="1785.6" y="697.4" width="27.1" height="15" fill="#EBEBEB" stroke="#000" stroke-width="1" stroke-opacity="0.8"/>
<rect x="1785.6" y="733.8" width="27.1" height="15.2" fill="#009193" stroke="#000" stroke-width="1" stroke-opacity="0.8"/>
<rect x="1785.6" y="770.3" width="27.1" height="15.2" fill="#FF9300" stroke="#000" stroke-width="1" stroke-opacity="0.8"/>
</g>
<g>
<rect x="121.9" y="1848.4" width="69.6" height="106.6" fill="#000000" stroke="#000" stroke-width="1" stroke-opacity="1"/>
<line x1="156.7" y1="1848.9" x2="156.7" y2="1826.9" stroke="#000" stroke-width="3.7" stroke-linecap="round"/>
<line x1="139.35" y1="1826.9" x2="174.05" y2="1826.9" stroke="#000" stroke-width="3.7" stroke-linecap="round"/>
<rect x="228" y="1782" width="69.7" height="173" fill="#A1A0A5" stroke="#000" stroke-width="1" stroke-opacity="0.8"/>
<line x1="262.85" y1="1782.5" x2="262.85" y2="1762.8" stroke="#000" stroke-width="3.7" stroke-linecap="round"/>
<line x1="245.5" y1="1762.8" x2="280.2" y2="1762.8" stroke="#000" stroke-width="3.7" stroke-linecap="round"/>
<rect x="333.8" y="1764" width="70" height="191" fill="#828282" stroke="#000" stroke-width="1" stroke-opacity="0.8"/>
<line x1="368.8" y1="1764.5" x2="368.8" y2="1736" stroke="#000" stroke-width="3.7" stroke-linecap="round"/>
<line x1="351.45" y1="1736" x2="386.15" y2="1736" stroke="#000" stroke-width="3.7" stroke-linecap="round"/>
<rect x="439.9" y="1634.2" width="70" height="320.8" fill="#D6D6D6" stroke="#000" stroke-width="1" stroke-opacity="0.8"/>
<line x1="474.9" y1="1634.7" x2="474.9" y2="1560.4" stroke="#000" stroke-width="3.7" stroke-linecap="round"/>
<line x1="457.55" y1="1560.4" x2="492.25" y2="1560.4" stroke="#000" stroke-width="3.7" stroke-linecap="round"/>
<rect x="545.7" y="1888.1" width="70" height="66.9" fill="#009193" stroke="#000" stroke-width="1" stroke-opacity="0.8"/>
<line x1="580.7" y1="1888.6" x2="580.7" y2="1881.5" stroke="#000" stroke-width="3.7" stroke-linecap="round"/>
<line x1="563.35" y1="1881.5" x2="598.05" y2="1881.5" stroke="#000" stroke-width="3.7" stroke-linecap="round"/>
<line x1="86" y1="1523.45" x2="86" y2="1957.95" stroke="#000" stroke-width="5.9" stroke-linecap="butt"/>
<line x1="71.05" y1="1955" x2="651.7" y2="1955" stroke="#000" stroke-width="5.9" stroke-linecap="butt"/>
<line x1="71.05" y1="1526.4" x2="86" y2="1526.4" stroke="#000" stroke-width="5.9" stroke-linecap="butt"/>
<text transform="translate(55.16 1538.03) scale(0.8108 1)" font-size="33.79" style="stroke-width:0.65px">4</text>
<line x1="71.05" y1="1633.55" x2="86" y2="1633.55" stroke="#000" stroke-width="5.9" stroke-linecap="butt"/>
<text transform="translate(55.16 1645.18) scale(0.8108 1)" font-size="33.79" style="stroke-width:0.65px">3</text>
<line x1="71.05" y1="1740.7" x2="86" y2="1740.7" stroke="#000" stroke-width="5.9" stroke-linecap="butt"/>
<text transform="translate(55.16 1752.33) scale(0.8108 1)" font-size="33.79" style="stroke-width:0.65px">2</text>
<line x1="71.05" y1="1847.85" x2="86" y2="1847.85" stroke="#000" stroke-width="5.9" stroke-linecap="butt"/>
<text transform="translate(55.16 1859.47) scale(0.8108 1)" font-size="33.79" clip-path="url(#k17)" style="stroke-width:0.65px">1</text>
<text transform="translate(55.16 1966.62) scale(0.8108 1)" font-size="33.79" style="stroke-width:0.65px">0</text>
<line x1="156.5" y1="1955" x2="156.5" y2="1971.75" stroke="#000" stroke-width="5.9" stroke-linecap="butt"/>
<line x1="262.7" y1="1955" x2="262.7" y2="1971.75" stroke="#000" stroke-width="5.9" stroke-linecap="butt"/>
<line x1="368.8" y1="1955" x2="368.8" y2="1971.75" stroke="#000" stroke-width="5.9" stroke-linecap="butt"/>
<line x1="474.5" y1="1955" x2="474.5" y2="1971.75" stroke="#000" stroke-width="5.9" stroke-linecap="butt"/>
<line x1="580.7" y1="1955" x2="580.7" y2="1971.75" stroke="#000" stroke-width="5.9" stroke-linecap="butt"/>
<path d="M140.1 1561.9 L141 1548.4 Q141.3 1545.8 143.3 1545.8 L419.3 1545.8 Q421.3 1545.8 421.6 1548.4 L422.5 1561.9" fill="none" stroke="#000" stroke-width="4" stroke-linecap="butt" stroke-linejoin="round"/>
<path d="M511 1626.6 L511.9 1613.9 Q512.2 1611.3 514.2 1611.3 L625.9 1611.3 Q627.9 1611.3 628.2 1613.9 L629.1 1626.6" fill="none" stroke="#000" stroke-width="4.1" stroke-linecap="butt" stroke-linejoin="round"/>
<text transform="translate(338.63 1432.05) scale(0.9397 1)" font-size="31.54" clip-path="url(#k18)">GB-1</text>
<text transform="translate(119.37 2007.55) scale(0.9376 1)" font-size="30.67">CTRL</text>
<text transform="translate(211.53 2007.55) scale(0.9340 1)" font-size="30.67">UNC0379</text>
<text transform="translate(345.03 2007.55) scale(0.9379 1)" font-size="30.67">Adv</text>
<text transform="translate(415.63 2007.55) scale(0.9325 1)" font-size="30.67">UNC0379</text>
<text transform="translate(549.63 2007.55) scale(0.9355 1)" font-size="30.67">UNC0379</text>
<text transform="translate(465.06 2042.75) scale(0.9293 1)" font-size="30.67">+</text>
<text transform="translate(613.96 2042.75) scale(0.9293 1)" font-size="30.67">+</text>
<text transform="translate(439.94 2078.65) scale(0.9344 1)" font-size="30.67">Adv</text>
<text transform="translate(559.73 2078.65) scale(0.9371 1)" font-size="30.67">Adv+zVAD</text>
<text transform="translate(276.07 1538.74) scale(0.9742 1)" font-size="28.76">***</text>
<text transform="translate(554.27 1602.1) scale(0.9997 1)" font-size="27.68">***</text>
<text transform="translate(26.34 1402.17) scale(1.0941 1)" font-size="28.29">c</text>
</g>
<g>
<rect x="778.8" y="1854.1" width="70.4" height="97.9" fill="#000000" stroke="#000" stroke-width="1" stroke-opacity="1"/>
<line x1="814" y1="1854.6" x2="814" y2="1840.3" stroke="#000" stroke-width="3.7" stroke-linecap="round"/>
<line x1="796.65" y1="1840.3" x2="831.35" y2="1840.3" stroke="#000" stroke-width="3.7" stroke-linecap="round"/>
<rect x="885.4" y="1856" width="70.4" height="96" fill="#A1A0A5" stroke="#000" stroke-width="1" stroke-opacity="0.8"/>
<line x1="920.6" y1="1856.5" x2="920.6" y2="1830" stroke="#000" stroke-width="3.7" stroke-linecap="round"/>
<line x1="903.25" y1="1830" x2="937.95" y2="1830" stroke="#000" stroke-width="3.7" stroke-linecap="round"/>
<rect x="991.5" y="1855.3" width="70.4" height="96.7" fill="#828282" stroke="#000" stroke-width="1" stroke-opacity="0.8"/>
<line x1="1026.7" y1="1855.8" x2="1026.7" y2="1847.1" stroke="#000" stroke-width="3.7" stroke-linecap="round"/>
<line x1="1009.35" y1="1847.1" x2="1044.05" y2="1847.1" stroke="#000" stroke-width="3.7" stroke-linecap="round"/>
<rect x="1098" y="1738.8" width="70" height="213.2" fill="#D6D6D6" stroke="#000" stroke-width="1" stroke-opacity="0.8"/>
<line x1="1133" y1="1739.3" x2="1133" y2="1725.4" stroke="#000" stroke-width="3.7" stroke-linecap="round"/>
<line x1="1115.65" y1="1725.4" x2="1150.35" y2="1725.4" stroke="#000" stroke-width="3.7" stroke-linecap="round"/>
<rect x="1204.1" y="1849.2" width="70" height="102.8" fill="#009193" stroke="#000" stroke-width="1" stroke-opacity="0.8"/>
<line x1="1239.1" y1="1849.7" x2="1239.1" y2="1826.2" stroke="#000" stroke-width="3.7" stroke-linecap="round"/>
<line x1="1221.75" y1="1826.2" x2="1256.45" y2="1826.2" stroke="#000" stroke-width="3.7" stroke-linecap="round"/>
<line x1="743.4" y1="1516.95" x2="743.4" y2="1954.95" stroke="#000" stroke-width="5.9" stroke-linecap="butt"/>
<line x1="728.45" y1="1952" x2="1310.9" y2="1952" stroke="#000" stroke-width="5.9" stroke-linecap="butt"/>
<line x1="728.45" y1="1519.9" x2="743.4" y2="1519.9" stroke="#000" stroke-width="5.9" stroke-linecap="butt"/>
<text transform="translate(711.96 1531.53) scale(0.8108 1)" font-size="33.79" style="stroke-width:0.65px">4</text>
<line x1="728.45" y1="1627.93" x2="743.4" y2="1627.93" stroke="#000" stroke-width="5.9" stroke-linecap="butt"/>
<text transform="translate(711.96 1639.55) scale(0.8108 1)" font-size="33.79" style="stroke-width:0.65px">3</text>
<line x1="728.45" y1="1735.95" x2="743.4" y2="1735.95" stroke="#000" stroke-width="5.9" stroke-linecap="butt"/>
<text transform="translate(711.96 1747.58) scale(0.8108 1)" font-size="33.79" style="stroke-width:0.65px">2</text>
<line x1="728.45" y1="1843.97" x2="743.4" y2="1843.97" stroke="#000" stroke-width="5.9" stroke-linecap="butt"/>
<text transform="translate(711.96 1855.6) scale(0.8108 1)" font-size="33.79" clip-path="url(#k19)" style="stroke-width:0.65px">1</text>
<text transform="translate(711.96 1963.62) scale(0.8108 1)" font-size="33.79" style="stroke-width:0.65px">0</text>
<line x1="813.9" y1="1952" x2="813.9" y2="1968.75" stroke="#000" stroke-width="5.9" stroke-linecap="butt"/>
<line x1="920" y1="1952" x2="920" y2="1968.75" stroke="#000" stroke-width="5.9" stroke-linecap="butt"/>
<line x1="1026.5" y1="1952" x2="1026.5" y2="1968.75" stroke="#000" stroke-width="5.9" stroke-linecap="butt"/>
<line x1="1132.6" y1="1952" x2="1132.6" y2="1968.75" stroke="#000" stroke-width="5.9" stroke-linecap="butt"/>
<line x1="1239.1" y1="1952" x2="1239.1" y2="1968.75" stroke="#000" stroke-width="5.9" stroke-linecap="butt"/>
<path d="M796.1 1564.8 L797.6 1538.2 Q798.1 1535.6 800.1 1535.6 L1127.5 1535.6 Q1129.5 1535.6 1130 1538.2 L1131.5 1564.8" fill="none" stroke="#000" stroke-width="4" stroke-linecap="butt" stroke-linejoin="round"/>
<path d="M1144.6 1613.3 L1146.1 1600.6 Q1146.6 1598 1148.6 1598 L1250.5 1598 Q1252.5 1598 1253 1600.6 L1254.5 1613.3" fill="none" stroke="#000" stroke-width="4" stroke-linecap="butt" stroke-linejoin="round"/>
<text transform="translate(977.66 1431.55) scale(0.9147 1)" font-size="31.69">GB-2</text>
<text transform="translate(771.18 2001.85) scale(0.9339 1)" font-size="30.67">CTRL</text>
<text transform="translate(863.74 2001.85) scale(0.9294 1)" font-size="30.67">UNC0379</text>
<text transform="translate(1006.04 2001.85) scale(0.9274 1)" font-size="30.67">Adv</text>
<text transform="translate(1084.03 2001.85) scale(0.9325 1)" font-size="30.67">UNC0379</text>
<text transform="translate(1218.33 2001.85) scale(0.9332 1)" font-size="30.67">UNC0379</text>
<text transform="translate(1125.06 2036.55) scale(0.9293 1)" font-size="30.67">+</text>
<text transform="translate(1256.76 2036.55) scale(0.9293 1)" font-size="30.67">+</text>
<text transform="translate(1100.34 2072.25) scale(0.9344 1)" font-size="30.67">Adv</text>
<text transform="translate(1203.33 2072.25) scale(0.9397 1)" font-size="30.67">Adv+zVAD</text>
<text transform="translate(962.47 1521.23) scale(1.0194 1)" font-size="27.15">***</text>
<text transform="translate(1184.27 1590.23) scale(1.0163 1)" font-size="27.15">***</text>
</g>
<g>
<rect x="1410.3" y="1850.7" width="70.4" height="106.3" fill="#000000" stroke="#000" stroke-width="1" stroke-opacity="1"/>
<line x1="1445.5" y1="1851.2" x2="1445.5" y2="1843.3" stroke="#000" stroke-width="3.7" stroke-linecap="round"/>
<line x1="1428.15" y1="1843.3" x2="1462.85" y2="1843.3" stroke="#000" stroke-width="3.7" stroke-linecap="round"/>
<rect x="1516.4" y="1791.1" width="70.4" height="165.9" fill="#A1A0A5" stroke="#000" stroke-width="1" stroke-opacity="0.8"/>
<line x1="1551.6" y1="1791.6" x2="1551.6" y2="1782.6" stroke="#000" stroke-width="3.7" stroke-linecap="round"/>
<line x1="1534.25" y1="1782.6" x2="1568.95" y2="1782.6" stroke="#000" stroke-width="3.7" stroke-linecap="round"/>
<rect x="1622.9" y="1788.8" width="70.1" height="168.2" fill="#828282" stroke="#000" stroke-width="1" stroke-opacity="0.8"/>
<line x1="1657.95" y1="1789.3" x2="1657.95" y2="1785.7" stroke="#000" stroke-width="3.7" stroke-linecap="round"/>
<line x1="1640.6" y1="1785.7" x2="1675.3" y2="1785.7" stroke="#000" stroke-width="3.7" stroke-linecap="round"/>
<rect x="1729.1" y="1746.5" width="70" height="210.5" fill="#D6D6D6" stroke="#000" stroke-width="1" stroke-opacity="0.8"/>
<line x1="1764.1" y1="1747" x2="1764.1" y2="1737.6" stroke="#000" stroke-width="3.7" stroke-linecap="round"/>
<line x1="1746.75" y1="1737.6" x2="1781.45" y2="1737.6" stroke="#000" stroke-width="3.7" stroke-linecap="round"/>
<rect x="1835.2" y="1827.8" width="70.4" height="129.2" fill="#009193" stroke="#000" stroke-width="1" stroke-opacity="0.8"/>
<line x1="1870.4" y1="1828.3" x2="1870.4" y2="1817.4" stroke="#000" stroke-width="3.7" stroke-linecap="round"/>
<line x1="1853.05" y1="1817.4" x2="1887.75" y2="1817.4" stroke="#000" stroke-width="3.7" stroke-linecap="round"/>
<line x1="1374.8" y1="1528.05" x2="1374.8" y2="1959.95" stroke="#000" stroke-width="5.9" stroke-linecap="butt"/>
<line x1="1359.85" y1="1957" x2="1942.4" y2="1957" stroke="#000" stroke-width="5.9" stroke-linecap="butt"/>
<line x1="1359.85" y1="1531" x2="1374.8" y2="1531" stroke="#000" stroke-width="5.9" stroke-linecap="butt"/>
<text transform="translate(1343.46 1542.62) scale(0.8108 1)" font-size="33.79" style="stroke-width:0.65px">4</text>
<line x1="1359.85" y1="1637.5" x2="1374.8" y2="1637.5" stroke="#000" stroke-width="5.9" stroke-linecap="butt"/>
<text transform="translate(1343.46 1649.12) scale(0.8108 1)" font-size="33.79" style="stroke-width:0.65px">3</text>
<line x1="1359.85" y1="1744" x2="1374.8" y2="1744" stroke="#000" stroke-width="5.9" stroke-linecap="butt"/>
<text transform="translate(1343.46 1755.62) scale(0.8108 1)" font-size="33.79" style="stroke-width:0.65px">2</text>
<line x1="1359.85" y1="1850.5" x2="1374.8" y2="1850.5" stroke="#000" stroke-width="5.9" stroke-linecap="butt"/>
<text transform="translate(1343.46 1862.12) scale(0.8108 1)" font-size="33.79" clip-path="url(#k20)" style="stroke-width:0.65px">1</text>
<text transform="translate(1343.46 1968.62) scale(0.8108 1)" font-size="33.79" style="stroke-width:0.65px">0</text>
<line x1="1445.3" y1="1957" x2="1445.3" y2="1973.75" stroke="#000" stroke-width="5.9" stroke-linecap="butt"/>
<line x1="1551.4" y1="1957" x2="1551.4" y2="1973.75" stroke="#000" stroke-width="5.9" stroke-linecap="butt"/>
<line x1="1658" y1="1957" x2="1658" y2="1973.75" stroke="#000" stroke-width="5.9" stroke-linecap="butt"/>
<line x1="1764.1" y1="1957" x2="1764.1" y2="1973.75" stroke="#000" stroke-width="5.9" stroke-linecap="butt"/>
<line x1="1870.2" y1="1957" x2="1870.2" y2="1973.75" stroke="#000" stroke-width="5.9" stroke-linecap="butt"/>
<path d="M1414 1564.8 L1415.5 1538.2 Q1416 1535.6 1418 1535.6 L1745.2 1535.6 Q1747.2 1535.6 1747.7 1538.2 L1749.2 1564.8" fill="none" stroke="#000" stroke-width="4" stroke-linecap="butt" stroke-linejoin="round"/>
<path d="M1775.5 1612.8 L1777 1600.7 Q1777.5 1598.1 1779.5 1598.1 L1889.5 1598.1 Q1891.5 1598.1 1892 1600.7 L1893.5 1612.8" fill="none" stroke="#000" stroke-width="4" stroke-linecap="butt" stroke-linejoin="round"/>
<text transform="translate(1612.76 1431.55) scale(0.9159 1)" font-size="31.69">GB-3</text>
<text transform="translate(1406.38 2005.45) scale(0.9339 1)" font-size="30.67">CTRL</text>
<text transform="translate(1499.03 2005.45) scale(0.9355 1)" font-size="30.67">UNC0379</text>
<text transform="translate(1632.15 2005.45) scale(0.9204 1)" font-size="30.67">Adv</text>
<text transform="translate(1695.13 2005.45) scale(0.9332 1)" font-size="30.67">UNC0379</text>
<text transform="translate(1828.73 2005.45) scale(0.9332 1)" font-size="30.67">UNC0379</text>
<text transform="translate(1759.56 2039.55) scale(0.9293 1)" font-size="30.67">+</text>
<text transform="translate(1875.96 2039.55) scale(0.9293 1)" font-size="30.67">+</text>
<text transform="translate(1735.53 2075.35) scale(0.9414 1)" font-size="30.67">Adv</text>
<text transform="translate(1822.23 2075.35) scale(0.9390 1)" font-size="30.67">Adv+zVAD</text>
<text transform="translate(1572.27 1518.75) scale(0.9202 1)" font-size="28.49">*</text>
<text transform="translate(1829.57 1586.73) scale(0.9753 1)" font-size="27.15">*</text>
</g>
</svg>
</body>
</html>
